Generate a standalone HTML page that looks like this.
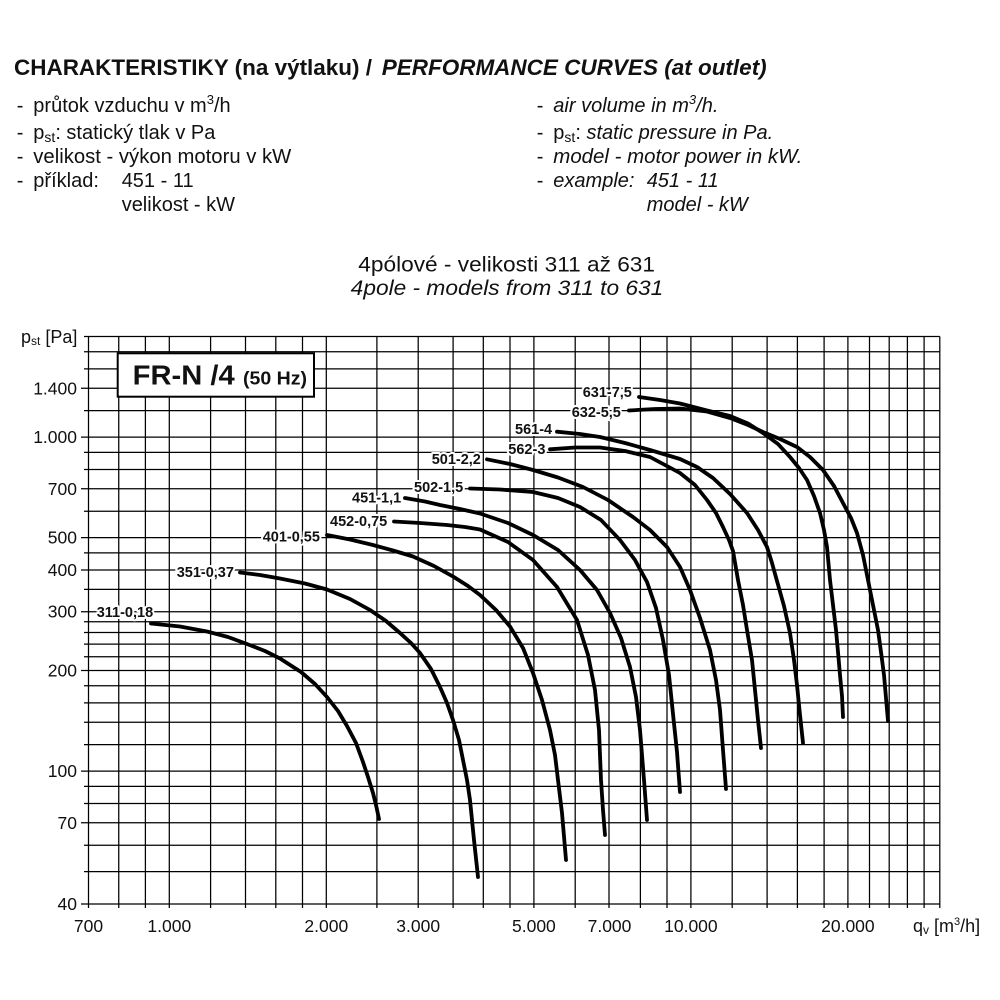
<!DOCTYPE html>
<html><head><meta charset="utf-8"><style>
html,body{margin:0;padding:0;background:#fff;}
svg{display:block;}
text{font-family:"Liberation Sans",Arial,sans-serif;fill:#111;}
.g line{stroke:#000;stroke-width:1.25;}
.c{fill:none;stroke:#000;stroke-width:3.8;stroke-linejoin:round;stroke-linecap:round;}
.lb{font-size:14.5px;font-weight:bold;fill:#111;stroke:#fff;stroke-width:4px;paint-order:stroke;stroke-linejoin:round;}
.t{font-size:17.5px;}
.b{font-size:20px;}
.i{font-style:italic;}
</style></head><body>
<svg width="1000" height="1000" viewBox="0 0 1000 1000" xmlns="http://www.w3.org/2000/svg">
<rect width="1000" height="1000" fill="#fff"/>
<text x="14" y="75" font-size="22.5" font-weight="bold" textLength="358" lengthAdjust="spacingAndGlyphs">CHARAKTERISTIKY (na výtlaku) /</text>
<text x="381.7" y="75" font-size="22.5" font-weight="bold" font-style="italic" textLength="385" lengthAdjust="spacingAndGlyphs">PERFORMANCE CURVES (at outlet)</text>
<g class="b">
<text x="16.7" y="112">-</text><text x="33.3" y="112">průtok vzduchu v m<tspan font-size="13" dy="-8">3</tspan><tspan dy="8">/h</tspan></text>
<text x="16.7" y="139">-</text><text x="33.3" y="139">p<tspan font-size="14" dy="3">st</tspan><tspan dy="-3">: statický tlak v Pa</tspan></text>
<text x="16.7" y="163">-</text><text x="33.3" y="163" textLength="258" lengthAdjust="spacingAndGlyphs">velikost - výkon motoru v kW</text>
<text x="16.7" y="187">-</text><text x="33.3" y="187">příklad:</text><text x="121.7" y="187">451 - 11</text>
<text x="121.7" y="211">velikost - kW</text>
<text x="536.7" y="112">-</text><text x="553.3" y="112" class="i">air volume in m<tspan font-size="13" dy="-8">3</tspan><tspan dy="8">/h.</tspan></text>
<text x="536.7" y="139">-</text><text x="553.3" y="139">p<tspan font-size="14" dy="3">st</tspan><tspan dy="-3">: </tspan><tspan font-style="italic">static pressure in Pa.</tspan></text>
<text x="536.7" y="163">-</text><text x="553.3" y="163" class="i" textLength="249" lengthAdjust="spacingAndGlyphs">model - motor power in kW.</text>
<text x="536.7" y="187">-</text><text x="553.3" y="187" class="i">example:</text><text x="646.7" y="187" class="i">451 - 11</text>
<text x="646.7" y="211" class="i">model - kW</text>
</g>
<text x="358.3" y="271.7" font-size="21.5" textLength="296.7" lengthAdjust="spacingAndGlyphs">4pólové - velikosti 311 až 631</text>
<text x="350.7" y="295" font-size="21.5" font-style="italic" textLength="312.6" lengthAdjust="spacingAndGlyphs">4pole - models from 311 to 631</text>

<g class="g">
<line x1="81" y1="904" x2="939.8" y2="904"/>
<line x1="84" y1="871.6" x2="939.8" y2="871.6"/>
<line x1="84" y1="845.2" x2="939.8" y2="845.2"/>
<line x1="81" y1="822.8" x2="939.8" y2="822.8"/>
<line x1="84" y1="803.5" x2="939.8" y2="803.5"/>
<line x1="84" y1="786.4" x2="939.8" y2="786.4"/>
<line x1="81" y1="771.1" x2="939.8" y2="771.1"/>
<line x1="84" y1="744.6" x2="939.8" y2="744.6"/>
<line x1="84" y1="722.3" x2="939.8" y2="722.3"/>
<line x1="84" y1="702.9" x2="939.8" y2="702.9"/>
<line x1="84" y1="685.8" x2="939.8" y2="685.8"/>
<line x1="81" y1="670.5" x2="939.8" y2="670.5"/>
<line x1="84" y1="656.7" x2="939.8" y2="656.7"/>
<line x1="84" y1="644.1" x2="939.8" y2="644.1"/>
<line x1="84" y1="632.5" x2="939.8" y2="632.5"/>
<line x1="84" y1="621.7" x2="939.8" y2="621.7"/>
<line x1="81" y1="611.7" x2="939.8" y2="611.7"/>
<line x1="84" y1="589.4" x2="939.8" y2="589.4"/>
<line x1="81" y1="570" x2="939.8" y2="570"/>
<line x1="84" y1="552.9" x2="939.8" y2="552.9"/>
<line x1="81" y1="537.6" x2="939.8" y2="537.6"/>
<line x1="84" y1="511.2" x2="939.8" y2="511.2"/>
<line x1="81" y1="488.8" x2="939.8" y2="488.8"/>
<line x1="84" y1="469.5" x2="939.8" y2="469.5"/>
<line x1="84" y1="452.4" x2="939.8" y2="452.4"/>
<line x1="81" y1="437.1" x2="939.8" y2="437.1"/>
<line x1="84" y1="410.6" x2="939.8" y2="410.6"/>
<line x1="81" y1="388.3" x2="939.8" y2="388.3"/>
<line x1="84" y1="368.9" x2="939.8" y2="368.9"/>
<line x1="84" y1="351.8" x2="939.8" y2="351.8"/>
<line x1="84" y1="336.5" x2="939.8" y2="336.5"/>
<line x1="88.5" y1="336.5" x2="88.5" y2="908"/>
<line x1="118.75" y1="336.5" x2="118.75" y2="908"/>
<line x1="145.4" y1="336.5" x2="145.4" y2="908"/>
<line x1="169.3" y1="336.5" x2="169.3" y2="908"/>
<line x1="210.6" y1="336.5" x2="210.6" y2="908"/>
<line x1="245.5" y1="336.5" x2="245.5" y2="908"/>
<line x1="275.8" y1="336.5" x2="275.8" y2="908"/>
<line x1="302.5" y1="336.5" x2="302.5" y2="908"/>
<line x1="326.3" y1="336.5" x2="326.3" y2="908"/>
<line x1="376.9" y1="336.5" x2="376.9" y2="908"/>
<line x1="418.2" y1="336.5" x2="418.2" y2="908"/>
<line x1="453.1" y1="336.5" x2="453.1" y2="908"/>
<line x1="483.3" y1="336.5" x2="483.3" y2="908"/>
<line x1="510" y1="336.5" x2="510" y2="908"/>
<line x1="533.9" y1="336.5" x2="533.9" y2="908"/>
<line x1="575.2" y1="336.5" x2="575.2" y2="908"/>
<line x1="609" y1="336.5" x2="609" y2="908"/>
<line x1="640.4" y1="336.5" x2="640.4" y2="908"/>
<line x1="667" y1="336.5" x2="667" y2="908"/>
<line x1="690.9" y1="336.5" x2="690.9" y2="908"/>
<line x1="732.2" y1="336.5" x2="732.2" y2="908"/>
<line x1="767.1" y1="336.5" x2="767.1" y2="908"/>
<line x1="797.4" y1="336.5" x2="797.4" y2="908"/>
<line x1="824.1" y1="336.5" x2="824.1" y2="908"/>
<line x1="847.9" y1="336.5" x2="847.9" y2="908"/>
<line x1="869.5" y1="336.5" x2="869.5" y2="908"/>
<line x1="889.2" y1="336.5" x2="889.2" y2="908"/>
<line x1="907.4" y1="336.5" x2="907.4" y2="908"/>
<line x1="924.1" y1="336.5" x2="924.1" y2="908"/>
<line x1="939.8" y1="336.5" x2="939.8" y2="908"/>
</g>

<g class="t" text-anchor="end">
<text x="77" y="394.3">1.400</text>
<text x="77" y="443.1">1.000</text>
<text x="77" y="494.8">700</text>
<text x="77" y="543.6">500</text>
<text x="77" y="576">400</text>
<text x="77" y="617.7">300</text>
<text x="77" y="676.5">200</text>
<text x="77" y="777.1">100</text>
<text x="77" y="828.8">70</text>
<text x="77" y="910">40</text>
</g>
<g class="t" text-anchor="middle">
<text x="88.5" y="932">700</text>
<text x="169.3" y="932">1.000</text>
<text x="326.3" y="932">2.000</text>
<text x="418.2" y="932">3.000</text>
<text x="533.9" y="932">5.000</text>
<text x="609.5" y="932">7.000</text>
<text x="690.9" y="932">10.000</text>
<text x="847.9" y="932">20.000</text>
</g>
<text x="21" y="343" font-size="18">p<tspan font-size="12" dy="2">st</tspan><tspan dy="-2"> [Pa]</tspan></text>
<text x="913" y="932" font-size="18">q<tspan font-size="12" dy="2">v</tspan><tspan dy="-2"> [m</tspan><tspan font-size="11" dy="-7">3</tspan><tspan dy="7">/h]</tspan></text>

<rect x="117.7" y="353.3" width="196.3" height="43.4" fill="#fff" stroke="#000" stroke-width="2"/>
<text x="132.7" y="384.3" font-size="28" font-weight="bold" fill="#000" textLength="102" lengthAdjust="spacingAndGlyphs">FR-N /4</text>
<text x="243" y="384.3" font-size="18" font-weight="bold" fill="#000" textLength="64" lengthAdjust="spacingAndGlyphs">(50 Hz)</text>

<text class="lb" x="96.7" y="617">311-0,18</text>
<text class="lb" x="176.7" y="577">351-0,37</text>
<text class="lb" x="262.7" y="541.5">401-0,55</text>
<text class="lb" x="330" y="526">452-0,75</text>
<text class="lb" x="352" y="502.5">451-1,1</text>
<text class="lb" x="414" y="492">502-1,5</text>
<text class="lb" x="431.7" y="464">501-2,2</text>
<text class="lb" x="508.3" y="454">562-3</text>
<text class="lb" x="515" y="434">561-4</text>
<text class="lb" x="571.7" y="417">632-5,5</text>
<text class="lb" x="582.7" y="397">631-7,5</text>

<polyline class="c" points="151,623.5 180,626.5 207,631.5 228,637 247,644 265,651 280,658.5 301,672 315,684 327,697 338,711 347,726 356,743 363,762 368,777 373,793 376,805 379,819"/>
<polyline class="c" points="240,572.5 260,575 280,578.5 305,583.5 327,589.5 350,599 370,610 386,621 400,633 411,643 420,653 431,669 440,687 447,703 453,720 459,740 463,760 467,780 470,800 474,840 478,877"/>
<polyline class="c" points="327,535 350,539.5 373,545 393,550.5 413,556.5 434,566 453,576.5 468,586 480,595 496,610 510,626.5 523,648 533,673 542,700 550,730 555,755 558,780 562,813 566,860"/>
<polyline class="c" points="394,521.5 420,523 447,525 465,527 480,529.5 508,542 533,560 557,587 577,620 588,655 595,690 599,730 601,780 603,810 605,835"/>
<polyline class="c" points="405,498 425,501.5 440,505 460,509 480,513.5 508,523 533,535 558,550 580,570 597,590 610,613 621,638 630,667 636,697 640,730 644,780 647,820"/>
<polyline class="c" points="470,488.5 500,489.5 533,492 558,498 580,507 601,520 620,540 635,560 647,582 656,608 663,640 669,675 673,714 677,752 680,792"/>
<polyline class="c" points="487,459.3 510,464 533,470 558,477.5 583,487 608,500 633,517 650,530 667,547 680,567 690,590 700,618 710,650 716,680 720,710 723,750 726,789"/>
<polyline class="c" points="550,449.3 575,447.5 600,447.5 625,451 650,457 680,473 695,485 707,500 716,513 723,527 729,540 733,551 738,580 743,605 747,630 752,660 755,690 758,720 761,748"/>
<polyline class="c" points="557,431.7 580,434 600,437 625,443 650,450 680,459 697,467 713,478 730,494 747,513 758,530 767,547 772,563 777,581 784,606 790,633 794,660 797,685 800,715 803,743"/>
<polyline class="c" points="639,397 660,400 680,403.5 707,410.5 730,416 748,423.5 763,433 778,444 790,457 799,468 807,480 814,496 820,513 824,530 827,547 830,580 833,605 836,630 838,652 840,675 842,696 843,717"/>
<polyline class="c" points="629,410.5 655,409 680,408.5 707,411.5 730,418 748,425 763,432 780,439 797,447 810,457 823,470 834,486 843,503 851,518 857,533 863,555 868,580 873,605 878,630 881,652 884,675 886,698 888,721"/>
</svg>
</body></html>
